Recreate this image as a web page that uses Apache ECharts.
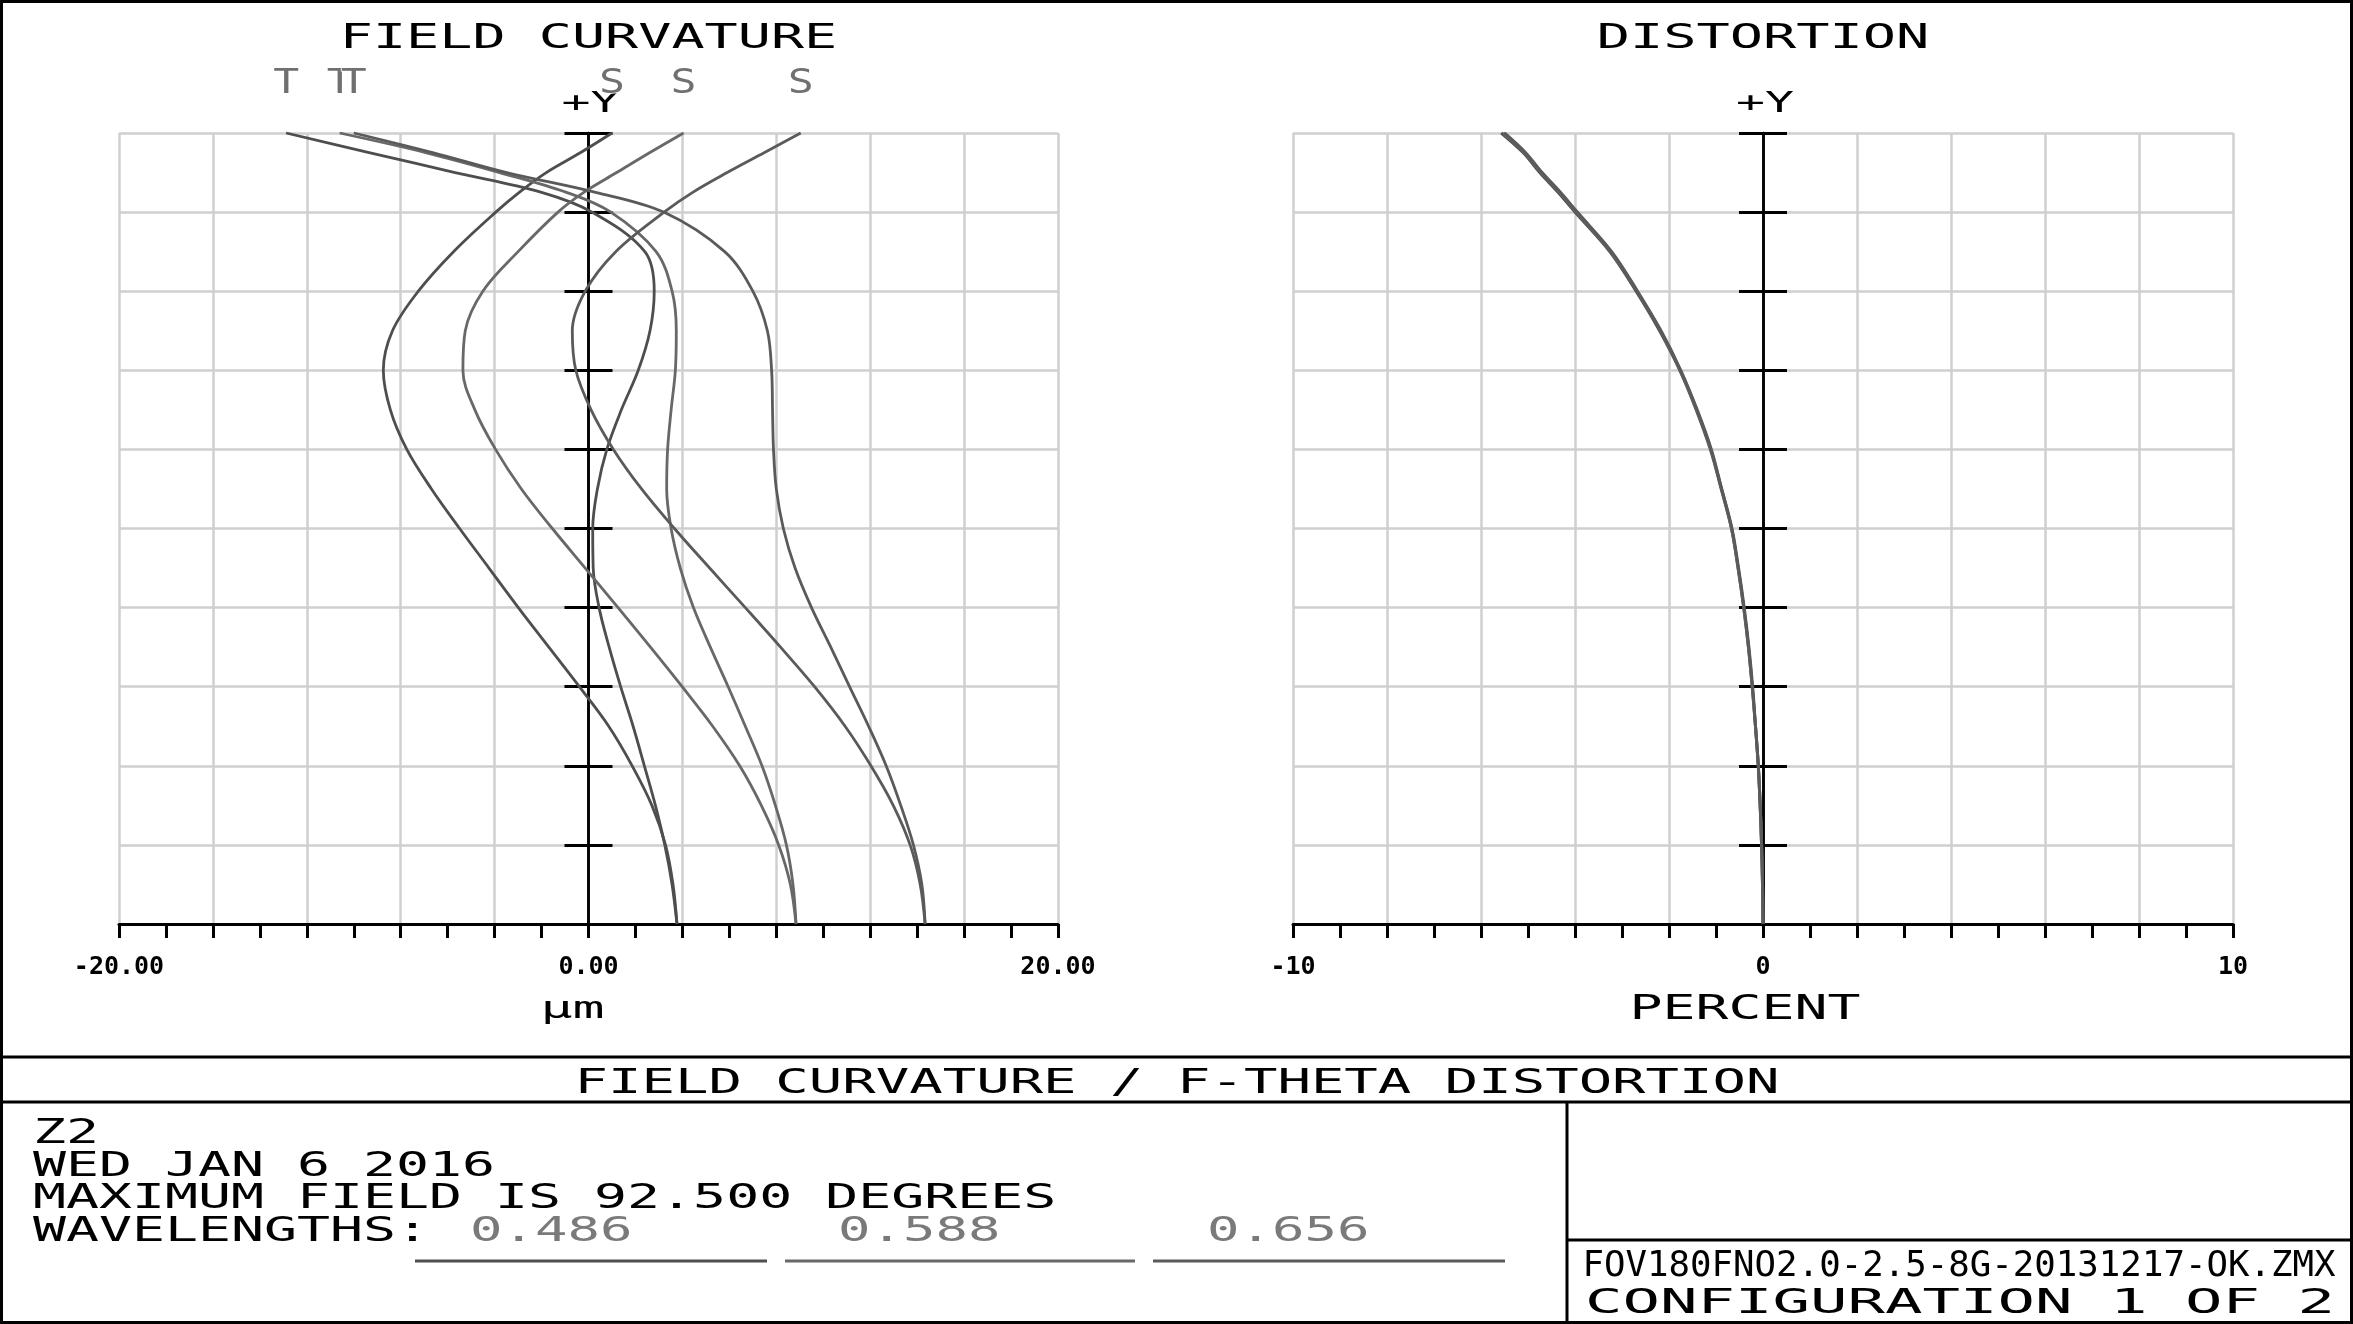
<!DOCTYPE html>
<html><head><meta charset="utf-8">
<script src="https://cdn.jsdelivr.net/npm/echarts@6/dist/echarts.min.js"></script>
<style>html,body{margin:0;padding:0;background:#fff;}#c{width:2353px;height:1324px;}</style>
</head><body><div id="c"></div>
<script>
// ---- DATA ----
const fieldLevels = [0, 0.05, 0.1, 0.15, 0.2, 0.25, 0.3, 0.35, 0.4, 0.45, 0.5, 0.55, 0.6, 0.65, 0.7, 0.75, 0.8, 0.85, 0.9, 0.925, 0.95, 0.975, 1.0];
// field curvature, micrometres
const tan486 = [3.77, 3.56, 3.25, 2.85, 2.38, 1.9, 1.37, 0.88, 0.45, 0.2, 0.18, 0.38, 0.78, 1.4, 2.12, 2.62, 2.8, 2.4, 0.15, -2.0, -5.68, -9.3, -12.88];
const sag486 = [3.77, 3.6, 3.28, 2.7, 1.86, 0.86, -0.39, -1.69, -2.99, -4.24, -5.49, -6.69, -7.74, -8.44, -8.74, -8.35, -7.25, -5.75, -3.95, -2.95, -1.8, -0.35, 1.0];
const tan588 = [8.84, 8.71, 8.43, 7.96, 7.39, 6.68, 5.95, 5.19, 4.47, 3.91, 3.52, 3.33, 3.37, 3.52, 3.7, 3.74, 3.56, 2.88, 0.95, -0.94, -3.78, -6.9, -10.6];
const sag588 = [8.84, 8.6, 8.1, 7.36, 6.44, 5.29, 3.99, 2.64, 1.26, -0.14, -1.54, -2.86, -3.96, -4.84, -5.35, -5.25, -4.5, -3.0, -1.3, -0.2, 1.2, 2.6, 4.05];
const tan656 = [14.34, 14.2, 13.84, 13.3, 12.68, 11.93, 11.12, 10.32, 9.5, 8.8, 8.3, 8.0, 7.88, 7.84, 7.8, 7.62, 7.0, 5.8, 3.2, 0.3, -3.48, -6.6, -10.0];
const sag656 = [14.34, 14.13, 13.7, 12.98, 12.03, 10.93, 9.63, 8.18, 6.68, 5.16, 3.66, 2.26, 1.06, 0.11, -0.54, -0.69, -0.14, 1.16, 3.22, 4.44, 5.91, 7.48, 9.04];
// f-theta distortion, percent
const dist486 = [0, -0.01, -0.03, -0.06, -0.10, -0.16, -0.23, -0.31, -0.41, -0.53, -0.67, -0.89, -1.12, -1.42, -1.77, -2.2, -2.7, -3.26, -4.0, -4.36, -4.75, -5.1, -5.57];
const dist588 = [0, -0.01, -0.03, -0.06, -0.10, -0.16, -0.23, -0.31, -0.41, -0.53, -0.67, -0.88, -1.11, -1.41, -1.76, -2.18, -2.68, -3.24, -3.97, -4.33, -4.72, -5.07, -5.53];
const dist656 = [0, -0.01, -0.03, -0.06, -0.10, -0.16, -0.22, -0.30, -0.40, -0.52, -0.66, -0.88, -1.10, -1.40, -1.75, -2.17, -2.67, -3.22, -3.95, -4.31, -4.70, -5.05, -5.50];
// tick labels
const fcLabelValues = [-20, 0, 20];
const fcLabelTexts = ['-20.00', '0.00', '20.00'];
const dLabelValues = [-10, 0, 10];
const dLabelTexts = ['-10', '0', '10'];
const wavelengths = ['0.486', '0.588', '0.656'];
const headerLines = ['Z2', 'WED JAN 6 2016', 'MAXIMUM FIELD IS 92.500 DEGREES', 'WAVELENGTHS:'];
const fileName = 'FOV180FNO2.0-2.5-8G-20131217-OK.ZMX';
const configText = 'CONFIGURATION 1 OF 2';

// ---- STYLE ----
const waveColors = ['#4e4e4e', '#686868', '#5a5a5a'];
const gridColor = '#cfcfcf';
const FONT = '"DejaVu Sans Mono"';
const TY = 4; // vertical text nudge

const chart = echarts.init(document.getElementById('c'), null, {renderer: 'canvas'});

function xAx(gridIndex, min, max, interval, lv, lt) {
  return {
    type: 'value', gridIndex, min, max, interval, position: 'bottom',
    axisLine: {show: true, onZero: false, lineStyle: {color: '#000', width: 3}},
    axisTick: {show: true, length: 14, lineStyle: {color: '#000', width: 3}},
    minorTick: {show: true, splitNumber: 2, length: 14, lineStyle: {color: '#000', width: 3}},
    minorSplitLine: {show: false},
    splitLine: {show: true, lineStyle: {color: gridColor, width: 2.5}},
    axisLabel: {
      show: true, margin: 31, color: '#000', fontFamily: 'DejaVu Sans Mono', fontWeight: 'bold', fontSize: 25,
      hideOverlap: false,
      formatter: v => { const i = lv.indexOf(Math.round(v * 1000) / 1000); return i >= 0 ? lt[i] : ''; }
    }
  };
}
function yAx(gridIndex, xIdx, pos, split) {
  return {
    type: 'value', gridIndex, min: 0, max: 1, interval: 0.1, position: pos,
    axisLine: {show: true, onZero: true, onZeroAxisIndex: xIdx, lineStyle: {color: '#000', width: 2.5}},
    axisTick: {show: true, length: 24, lineStyle: {color: '#000', width: 3}},
    axisLabel: {show: false},
    splitLine: {show: split, lineStyle: {color: gridColor, width: 2.5}}
  };
}
function curve(vals, xi, yi, color, w) {
  return {
    type: 'line', xAxisIndex: xi, yAxisIndex: yi,
    data: fieldLevels.map((f, i) => [vals[i], f]),
    showSymbol: false, symbol: 'none', smooth: 0.35, clip: false, silent: true,
    lineStyle: {color, width: w || 2.8}, z: 3
  };
}

chart.setOption({
  animation: false,
  backgroundColor: '#fff',
  grid: [
    {left: 119, top: 133, width: 939, height: 791},
    {left: 1293, top: 133, width: 940, height: 791}
  ],
  xAxis: [xAx(0, -20, 20, 4, fcLabelValues, fcLabelTexts), xAx(1, -10, 10, 2, dLabelValues, dLabelTexts)],
  yAxis: [yAx(0, 0, 'left', true), yAx(0, 0, 'right', false), yAx(1, 1, 'left', true), yAx(1, 1, 'right', false)],
  series: [
    curve(tan486, 0, 0, waveColors[0]), curve(sag486, 0, 0, waveColors[0]),
    curve(tan588, 0, 0, waveColors[1]), curve(sag588, 0, 0, waveColors[1]),
    curve(tan656, 0, 0, waveColors[2]), curve(sag656, 0, 0, waveColors[2]),
    curve(dist486, 1, 2, waveColors[0], 3), curve(dist588, 1, 2, waveColors[1], 3), curve(dist656, 1, 2, waveColors[2], 3)
  ]
});

// ---- text helper: stroke-font look via horizontal scaling ----
function txt(str, x, y, cap, pitch, align, color) {
  const fs = cap / 0.729;
  const sx = pitch / (0.602 * fs);
  align = align || 'center';
  return {
    type: 'text', x, y: y + TY, scaleX: sx, silent: true, z: 50,
    style: {text: str, font: fs.toFixed(1) + 'px ' + FONT, fill: color || '#000',
      stroke: '#fff', lineWidth: 1.3,
      textAlign: align, textVerticalAlign: 'middle', align: align, verticalAlign: 'middle'}
  };
}
function ln(x1, y1, x2, y2, color, w) {
  return {type: 'line', silent: true, z: 40, shape: {x1, y1, x2, y2}, style: {stroke: color || '#000', lineWidth: w || 3}};
}

const g = [];
// frame & title block
g.push({type: 'rect', silent: true, z: 40, shape: {x: 1.5, y: 1.5, width: 2350, height: 1321}, style: {fill: 'none', stroke: '#000', lineWidth: 3}});
g.push(ln(0, 1057, 2353, 1057));
g.push(ln(0, 1102, 2353, 1102));
g.push(ln(1567, 1102, 1567, 1324));
g.push(ln(1567, 1240, 2353, 1240));

// plot titles
const pL = chart.convertToPixel({gridIndex: 0}, [0, 1]);
const pR = chart.convertToPixel({gridIndex: 1}, [0, 1]);
g.push(txt('FIELD CURVATURE', pL[0], 35, 24, 33.2));
g.push(txt('DISTORTION', pR[0], 35, 24, 33.3));
g.push(txt('+Y', pL[0] + 2, pL[1] - 32, 21, 29));
g.push(txt('+Y', pR[0] + 2, pR[1] - 32, 21, 29));
g.push(txt('\u00B5m', pL[0] - 16, 1006, 22, 32));
g.push(txt('PERCENT', pR[0] - 18, 1006, 24, 33));

// curve tags at the top end of each curve
const tags = [['T', tan486], ['T', tan588], ['T', tan656], ['S', sag486], ['S', sag588], ['S', sag656]];
tags.forEach(([t, arr]) => {
  const p = chart.convertToPixel({gridIndex: 0}, [arr[arr.length - 1], fieldLevels[fieldLevels.length - 1]]);
  g.push(txt(t, p[0], p[1] - 53, 24, 26, 'center', '#707070'));
});

// bottom block
g.push(txt('FIELD CURVATURE / F-THETA DISTORTION', 1177, 1080, 24, 33.5));
headerLines.forEach((s, i) => g.push(txt(s, 33, 1130 + i * 32.7, 25, 33, 'left')));
const wlX = [470, 838, 1207];
const wlLine = [[415, 767], [785, 1135], [1153, 1505]];
wavelengths.forEach((w, i) => {
  g.push(txt(w, wlX[i], 1228, 24, 32.5, 'left', '#7a7a7a'));
  g.push(ln(wlLine[i][0], 1261, wlLine[i][1], 1261, waveColors[i], 3));
});
g.push(txt(fileName, 1959, 1263, 26, 21.5));
g.push(txt(configText, 1960, 1300, 25, 37.5));

chart.setOption({graphic: {elements: g}});
</script></body></html>
